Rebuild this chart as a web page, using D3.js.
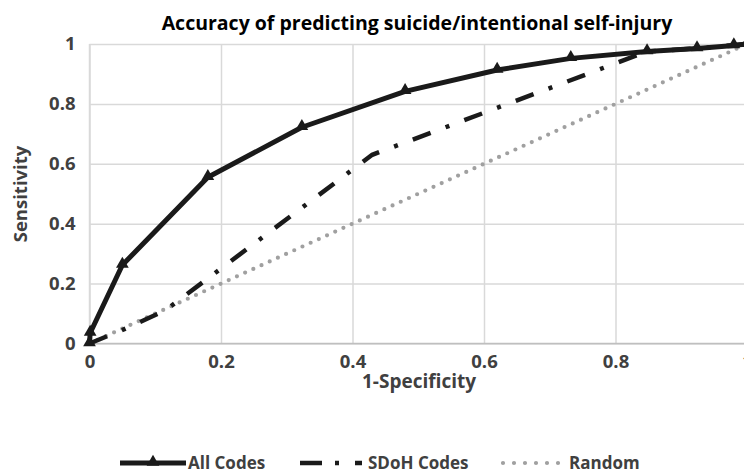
<!DOCTYPE html>
<html lang="en">
<head>
  <meta charset="utf-8">
  <title>ROC suicide</title>
  <script src="https://d3js.org/d3.v7.min.js"></script>
  <style>
    body { margin: 0; background: #fff; }
    text { font-family: "Open Sans", sans-serif; font-weight: bold; }
  </style>
</head>
<body>
<script>
// data
var allCodesX  = [0, 0.001, 0.05, 0.18, 0.323, 0.48, 0.62, 0.732, 0.848, 0.924, 0.98, 1];
var allCodesY  = [0, 0.035, 0.262, 0.555, 0.722, 0.842, 0.913, 0.952, 0.975, 0.985, 0.995, 1];
var sdohX      = [0, 0.05, 0.115, 0.43, 0.848, 0.924, 1];
var sdohY      = [0, 0.045, 0.11, 0.63, 0.975, 0.985, 1];
var randomX    = [0, 1];
var randomY    = [0, 1];
var tickValues = [0, 0.2, 0.4, 0.6, 0.8, 1];
var tickLabels = ["0", "0.2", "0.4", "0.6", "0.8", "1"];
var seriesNames = ["All Codes", "SDoH Codes", "Random"];

var svg_width = 744;
var svg_height = 475;

var svg = d3.select("body")
  .append("svg")
  .attr("width", svg_width)
  .attr("height", svg_height);

var x = d3.scaleLinear().domain([0, 1]).range([89.5, 747]);
var y = d3.scaleLinear().domain([0, 1]).range([343.5, 44]);

var fmt = function(d) { return tickLabels[tickValues.indexOf(d)]; };

// gridlines + y axis
var yAxis = svg.append("g")
  .attr("transform", "translate(" + x(0) + ",0)")
  .call(d3.axisLeft(y).tickValues(tickValues).tickFormat(fmt)
        .tickSize(-(x(1) - x(0))).tickPadding(14));
yAxis.select(".domain").remove();
yAxis.selectAll("line").attr("stroke", "#d9d9d9").attr("stroke-width", 1.5);
yAxis.selectAll("text").attr("fill", "#404040").style("font-size", "18.5px");

var xAxis = svg.append("g")
  .attr("transform", "translate(0," + y(0) + ")")
  .call(d3.axisBottom(x).tickValues(tickValues).tickFormat(fmt)
        .tickSize(-(y(0) - y(1))).tickPadding(11));
xAxis.select(".domain").remove();
xAxis.selectAll("line").attr("stroke", "#d9d9d9").attr("stroke-width", 1.5);
xAxis.selectAll("text").attr("fill", "#404040").style("font-size", "18.5px");

// axis base lines
svg.append("line")
  .attr("x1", x(0)).attr("x2", x(1)).attr("y1", y(0)).attr("y2", y(0))
  .attr("stroke", "#bfbfbf").attr("stroke-width", 1.5);
svg.append("line")
  .attr("x1", x(0)).attr("x2", x(0)).attr("y1", y(0)).attr("y2", y(1))
  .attr("stroke", "#d9d9d9").attr("stroke-width", 1.5);

function pts(xs, ys) {
  return xs.map(function(d, i) { return [d, ys[i]]; });
}
var line = d3.line().x(function(d) { return x(d[0]); }).y(function(d) { return y(d[1]); });

// Random
svg.append("path")
  .attr("d", line(pts(randomX, randomY)))
  .attr("fill", "none")
  .attr("stroke", "#a0a0a0")
  .attr("stroke-width", 4.2)
  .attr("stroke-linecap", "round")
  .attr("stroke-dasharray", "0 9");

// SDoH Codes
svg.append("path")
  .attr("d", line(pts(sdohX, sdohY)))
  .attr("fill", "none")
  .attr("stroke", "#1a1a1a")
  .attr("stroke-width", 4.5)
  .attr("stroke-dasharray", "19 16 4 16");

// All Codes
svg.append("path")
  .attr("d", line(pts(allCodesX, allCodesY)))
  .attr("fill", "none")
  .attr("stroke", "#1a1a1a")
  .attr("stroke-width", 5)
  .attr("stroke-linejoin", "round");

var tri = d3.symbol().type(d3.symbolTriangle).size(70);
svg.selectAll(".tri")
  .data(pts(allCodesX, allCodesY))
  .enter()
  .append("path")
  .attr("class", "tri")
  .attr("d", tri)
  .attr("transform", function(d) { return "translate(" + x(d[0]) + "," + (y(d[1]) - 1) + ")"; })
  .attr("fill", "#1a1a1a");

// title
svg.append("text")
  .attr("x", 417).attr("y", 30)
  .attr("text-anchor", "middle")
  .attr("fill", "#000")
  .style("font-size", "19.5px")
  .text("Accuracy of predicting suicide/intentional self-injury");

// axis titles
svg.append("text")
  .attr("x", 419).attr("y", 388)
  .attr("text-anchor", "middle")
  .attr("fill", "#404040")
  .style("font-size", "19px")
  .text("1-Specificity");
svg.append("text")
  .attr("transform", "translate(27,194) rotate(-90)")
  .attr("text-anchor", "middle")
  .attr("fill", "#404040")
  .style("font-size", "18.5px")
  .text("Sensitivity");

// legend
var ly = 463;
svg.append("line")
  .attr("x1", 120).attr("x2", 186).attr("y1", ly).attr("y2", ly)
  .attr("stroke", "#1a1a1a").attr("stroke-width", 5);
svg.append("path")
  .attr("d", tri)
  .attr("transform", "translate(153," + (ly - 1) + ")")
  .attr("fill", "#1a1a1a");
svg.append("line")
  .attr("x1", 300).attr("x2", 362).attr("y1", ly).attr("y2", ly)
  .attr("stroke", "#1a1a1a").attr("stroke-width", 4.5)
  .attr("stroke-dasharray", "22 13 4 16");
svg.append("line")
  .attr("x1", 503).attr("x2", 560).attr("y1", ly).attr("y2", ly)
  .attr("stroke", "#a0a0a0").attr("stroke-width", 4.2)
  .attr("stroke-linecap", "round")
  .attr("stroke-dasharray", "0 11");

var legendX = [188, 368, 569];
svg.selectAll(".leg")
  .data(seriesNames)
  .enter()
  .append("text")
  .attr("class", "leg")
  .attr("x", function(d, i) { return legendX[i]; })
  .attr("y", ly + 6)
  .attr("fill", "#404040")
  .style("font-size", "17px")
  .text(function(d) { return d; });
</script>
</body>
</html>
